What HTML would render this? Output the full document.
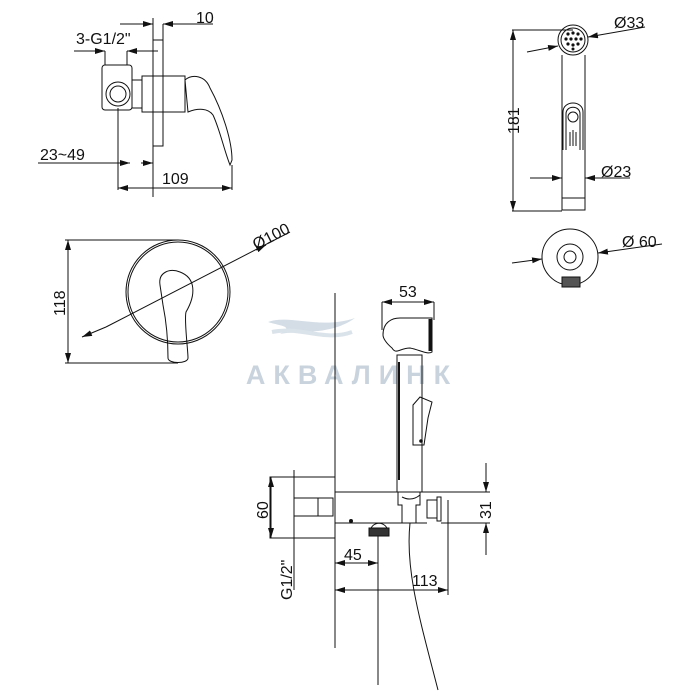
<!DOCTYPE html>
<html><head><meta charset="utf-8"><style>
html,body{margin:0;padding:0;background:#fff}
svg{display:block}
text{font-family:"Liberation Sans","DejaVu Sans",sans-serif;fill:#111}
</style></head><body>
<svg width="700" height="700" viewBox="0 0 700 700" xmlns="http://www.w3.org/2000/svg">
<defs>
<marker id="a" viewBox="0 0 10 6" refX="10" refY="3" markerWidth="10" markerHeight="6" orient="auto-start-reverse" markerUnits="userSpaceOnUse"><path d="M0,0L10,3L0,6z" fill="#111"/></marker>
</defs>
<!-- watermark -->
<path d="M268,322 C290,314 320,330 355,318 C330,336 300,330 280,334 C295,326 280,326 268,322z" fill="#d4dde6"/>
<path d="M272,332 C300,326 325,342 352,332" stroke="#dbe3ea" stroke-width="4" fill="none"/>
<text x="352" y="384" text-anchor="middle" font-size="27" font-weight="bold" letter-spacing="8" style="fill:#c9d3dd">АКВАЛИНК</text>

<g stroke="#111" stroke-width="1" fill="none">
<!-- top-left side view -->
<line x1="153" y1="18" x2="153" y2="197"/>
<rect x="153" y="40" width="10" height="106"/>
<line x1="120" y1="24" x2="153" y2="24" marker-end="url(#a)"/>
<line x1="180" y1="24" x2="163" y2="24" marker-end="url(#a)"/>
<line x1="163" y1="24" x2="213" y2="24"/>
<line x1="163" y1="24" x2="163" y2="40"/>
<line x1="74" y1="51" x2="105" y2="51" marker-end="url(#a)"/>
<line x1="158" y1="51" x2="127" y2="51" marker-end="url(#a)"/>
<line x1="105" y1="51" x2="105" y2="65"/><line x1="127" y1="51" x2="127" y2="65"/>
<rect x="102" y="65" width="30" height="45" rx="3"/>
<circle cx="118" cy="94" r="12"/><circle cx="118" cy="94" r="8"/>
<rect x="132" y="80" width="10" height="28"/>
<rect x="142" y="76" width="43" height="36"/>
<path d="M185,80 C192,74 205,75 210,88 C222,110 232,140 232,160 L230,165 C224,150 220,130 213,115 C208,108 198,108 188,112 Z"/>
<line x1="118" y1="108" x2="118" y2="190"/>
<line x1="38" y1="163" x2="118" y2="163"/>
<line x1="118" y1="163" x2="130" y2="163" marker-end="url(#a)"/>
<line x1="141" y1="163" x2="153" y2="163" marker-end="url(#a)"/>
<line x1="118" y1="188" x2="232" y2="188" marker-start="url(#a)" marker-end="url(#a)"/>
<line x1="232" y1="165" x2="232" y2="190"/>

<!-- front view -->
<circle cx="178" cy="292" r="52"/>
<circle cx="178" cy="292" r="50"/>
<path d="M160,285 C158,272 170,268 180,272 C196,278 196,295 186,312 C184,320 188,350 188,358 C188,364 168,364 168,358 C168,340 166,320 163,305 Z"/>
<line x1="65" y1="240" x2="178" y2="240"/>
<line x1="65" y1="363" x2="178" y2="363"/>
<line x1="68" y1="240" x2="68" y2="363" marker-start="url(#a)" marker-end="url(#a)"/>
<line x1="82" y1="337" x2="106" y2="327" marker-start="url(#a)"/>
<line x1="106" y1="327" x2="290" y2="232"/>
<line x1="256" y1="250" x2="266" y2="245" marker-end="url(#a)"/>

<!-- right top hand shower -->
<circle cx="573" cy="40" r="15"/><circle cx="573" cy="40" r="12"/>
<g fill="#111" stroke="none">
<circle cx="568" cy="34" r="1.6"/><circle cx="573" cy="33" r="1.6"/><circle cx="578" cy="34" r="1.6"/>
<circle cx="566" cy="39" r="1.6"/><circle cx="571" cy="39" r="1.6"/><circle cx="576" cy="39" r="1.6"/><circle cx="581" cy="39" r="1.6"/>
<circle cx="568" cy="44" r="1.6"/><circle cx="573" cy="45" r="1.6"/><circle cx="578" cy="44" r="1.6"/><circle cx="573" cy="49" r="1.5"/>
</g>
<path d="M562,55 L562,210 L585,210 L585,55"/>
<line x1="562" y1="198" x2="585" y2="198"/>
<path d="M563,150 L563,112 C563,100 583,100 583,112 L583,150"/>
<path d="M566,150 L566,114 C566,105 580,105 580,114 L580,150"/>
<circle cx="573" cy="117" r="5"/>
<line x1="570" y1="132" x2="570" y2="146"/><line x1="573" y1="130" x2="573" y2="146"/><line x1="576" y1="132" x2="576" y2="146"/>
<line x1="512" y1="30" x2="573" y2="30"/>
<line x1="512" y1="211" x2="562" y2="211"/>
<line x1="513" y1="30" x2="513" y2="211" marker-start="url(#a)" marker-end="url(#a)"/>
<line x1="527" y1="52" x2="558" y2="46" marker-end="url(#a)"/>
<line x1="645" y1="27" x2="588" y2="37" marker-end="url(#a)"/>
<line x1="530" y1="178" x2="562" y2="178" marker-end="url(#a)"/>
<line x1="630" y1="178" x2="585" y2="178" marker-end="url(#a)"/>
<circle cx="570" cy="257" r="28"/><circle cx="570" cy="257" r="13"/><circle cx="570" cy="257" r="6"/>
<rect x="562" y="277" width="18" height="10" fill="#555"/>
<line x1="512" y1="263" x2="542" y2="259" marker-end="url(#a)"/>
<line x1="662" y1="244" x2="598" y2="253" marker-end="url(#a)"/>

<!-- bottom middle -->
<line x1="335" y1="293" x2="335" y2="648"/>
<rect x="270" y="477" width="65" height="61"/>
<rect x="318" y="498" width="15" height="18"/>
<line x1="294" y1="470" x2="294" y2="590"/>
<line x1="294" y1="498" x2="318" y2="498"/><line x1="294" y1="516" x2="318" y2="516"/>
<line x1="271" y1="477" x2="271" y2="538" marker-start="url(#a)" marker-end="url(#a)"/>
<path d="M335,492 L427,492 M335,523 L427,523"/>
<circle cx="351" cy="521" r="1.5" fill="#111"/>
<path d="M370,533 C370,520 388,520 388,533"/>
<rect x="369" y="528" width="20" height="8" fill="#333"/>
<path d="M398,492 L398,505 L402,505 L402,523 M420,492 L420,505 L416,505 L416,523"/>
<path d="M402,497 C408,500 414,500 420,495"/>
<rect x="427" y="500" width="10" height="18"/><rect x="437" y="497" width="4" height="24"/>
<path d="M397,492 L397,355 L422,355 L422,492"/>
<line x1="399" y1="362" x2="399" y2="480" stroke-width="2"/>
<path d="M383,335 C383,322 392,318 400,318 L432,318 L432,352 C428,355 420,350 410,348 C400,348 396,355 392,348 C386,343 383,338 383,335 Z"/>
<line x1="430" y1="319" x2="430" y2="351" stroke-width="3"/>
<path d="M413,405 L420,397 L432,402 L428,418 L424,445 L413,445 Z"/>
<circle cx="421" cy="441" r="1.3" fill="#111"/>
<line x1="382" y1="302" x2="382" y2="330"/>
<line x1="434" y1="302" x2="434" y2="320"/>
<line x1="382" y1="302" x2="434" y2="302" marker-start="url(#a)" marker-end="url(#a)"/>
<line x1="427" y1="492" x2="490" y2="492"/>
<line x1="441" y1="523" x2="490" y2="523"/>
<line x1="486" y1="463" x2="486" y2="492" marker-end="url(#a)"/>
<line x1="486" y1="555" x2="486" y2="523" marker-end="url(#a)"/>
<line x1="335" y1="563" x2="378" y2="563" marker-start="url(#a)" marker-end="url(#a)"/>
<line x1="378" y1="536" x2="378" y2="685"/>
<line x1="335" y1="590" x2="448" y2="590" marker-start="url(#a)" marker-end="url(#a)"/>
<line x1="448" y1="500" x2="448" y2="595"/>
<path d="M410,523 C405,570 420,620 438,690"/>
</g>

<g font-size="16">
<text x="196" y="23">10</text>
<text x="76" y="44">3-G1/2"</text>
<text x="40" y="160">23~49</text>
<text x="162" y="184">109</text>
<text transform="translate(65,316) rotate(-90)">118</text>
<text transform="translate(256,250) rotate(-27)">Ø100</text>
<text x="399" y="297">53</text>
<text transform="translate(268,519) rotate(-90)">60</text>
<text transform="translate(292,600) rotate(-90)">G1/2"</text>
<text x="344" y="560">45</text>
<text x="412" y="586">113</text>
<text transform="translate(491,519) rotate(-90)">31</text>
<text transform="translate(519,134) rotate(-90)">181</text>
<text x="614" y="28">Ø33</text>
<text x="601" y="177">Ø23</text>
<text x="622" y="247">Ø 60</text>
</g>
</svg>
</body></html>
